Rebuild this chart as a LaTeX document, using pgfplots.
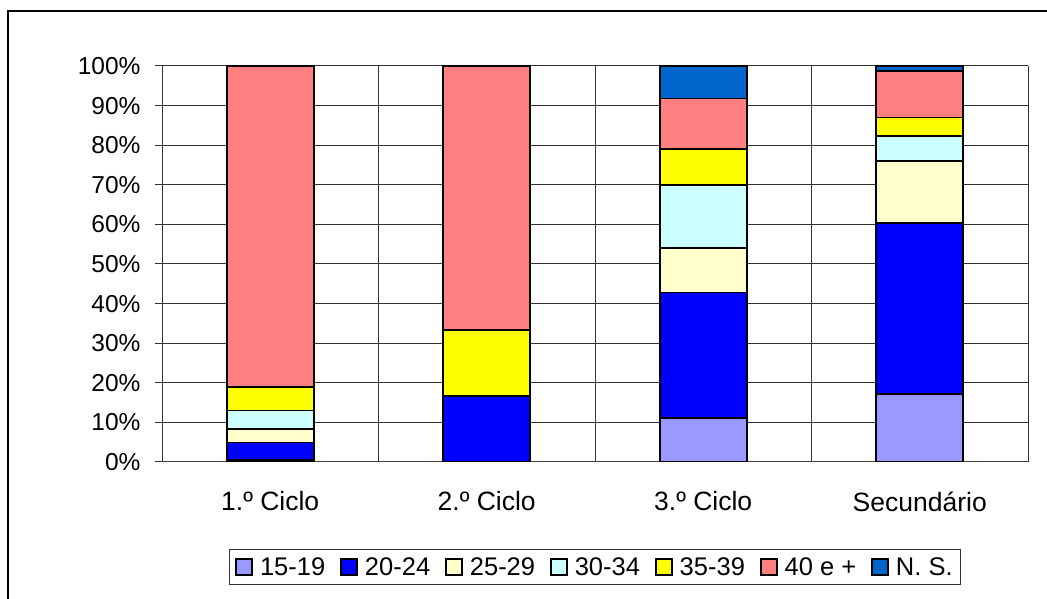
\documentclass[border=0pt]{standalone}
\usepackage{fontspec}
\setmainfont{Liberation Sans}
\usepackage{pgfplots}
\pgfplotsset{compat=1.18}

\definecolor{c1519}{HTML}{9999FF}
\definecolor{c2024}{HTML}{0000FF}
\definecolor{c2529}{HTML}{FFFFCC}
\definecolor{c3034}{HTML}{CCFFFF}
\definecolor{c3539}{HTML}{FFFF00}
\definecolor{c40}{HTML}{FF8080}
\definecolor{cns}{HTML}{0066CC}

\newcommand{\ytfont}{\fontsize{24.5}{29}\selectfont}
\newcommand{\xtfont}{\fontsize{26.5}{31}\selectfont}
\newcommand{\lgfont}{\fontsize{25.5}{30}\selectfont}

\begin{document}
\begin{tikzpicture}
\useasboundingbox (0pt,0pt) rectangle (1047pt,599pt);
\draw[line width=2pt] (8pt,-5pt) -- (8pt,588pt) -- (1055pt,588pt);
\begin{axis}[
    at={(162pt,137pt)}, anchor=south west,
    scale only axis, width=866pt, height=396pt,
    ybar stacked, bar width=87pt,
    xmin=0.5, xmax=4.5, ymin=0, ymax=100,
    axis lines*=left,
    axis line style={line width=1pt, black!75},
    xtick={1,2,3,4},
    xticklabels={1.º Ciclo, 2.º Ciclo, 3.º Ciclo, Secundário},
    x tick style={draw=none},
    extra x ticks={0.5,1.5,2.5,3.5,4.5},
    extra x tick labels={},
    extra x tick style={grid=major, major tick length=8pt, tick align=outside,
        tick style={draw=black!80, line width=1pt}},
    ytick={0,10,...,100},
    yticklabels={0\%,10\%,20\%,30\%,40\%,50\%,60\%,70\%,80\%,90\%,100\%},
    y tick style={draw=black!80, line width=1pt},
    ymajorgrids, grid style={black!80, line width=1pt},
    tick align=outside, major tick length=7pt,
    yticklabel style={font=\ytfont, xshift=-11pt},
    xticklabel style={font=\xtfont, yshift=-19pt},
    every axis plot/.append style={draw=black, line width=1.8pt},
    legend columns=7,
    legend style={at={(0.5,-0.219)}, anchor=north, font=\lgfont,
        draw=black!80, line width=1pt, inner xsep=6pt, inner ysep=6pt,
        /tikz/every even column/.append style={column sep=13pt}},
    legend image code/.code={\draw[#1, line width=1.6pt] (0pt,-8pt) rectangle (16pt,8pt);
        \path (21pt,0pt);},
]
\addplot[fill=c1519] coordinates {(1,0.6) (2,0) (3,11.1) (4,17.1)};
\addplot[fill=c2024] coordinates {(1,4.3) (2,16.7) (3,31.7) (4,43.3)};
\addplot[fill=c2529] coordinates {(1,3.4) (2,0) (3,11.3) (4,15.6)};
\addplot[fill=c3034] coordinates {(1,4.7) (2,0) (3,15.8) (4,6.3)};
\addplot[fill=c3539] coordinates {(1,6.0) (2,16.6) (3,9.1) (4,4.7)};
\addplot[fill=c40] coordinates {(1,81.0) (2,66.7) (3,12.8) (4,11.7)};
\addplot[fill=cns] coordinates {(1,0) (2,0) (3,8.2) (4,1.3)};
\legend{15-19, 20-24, 25-29, 30-34, 35-39, 40 e +, N. S.}
\end{axis}
\end{tikzpicture}
\end{document}
